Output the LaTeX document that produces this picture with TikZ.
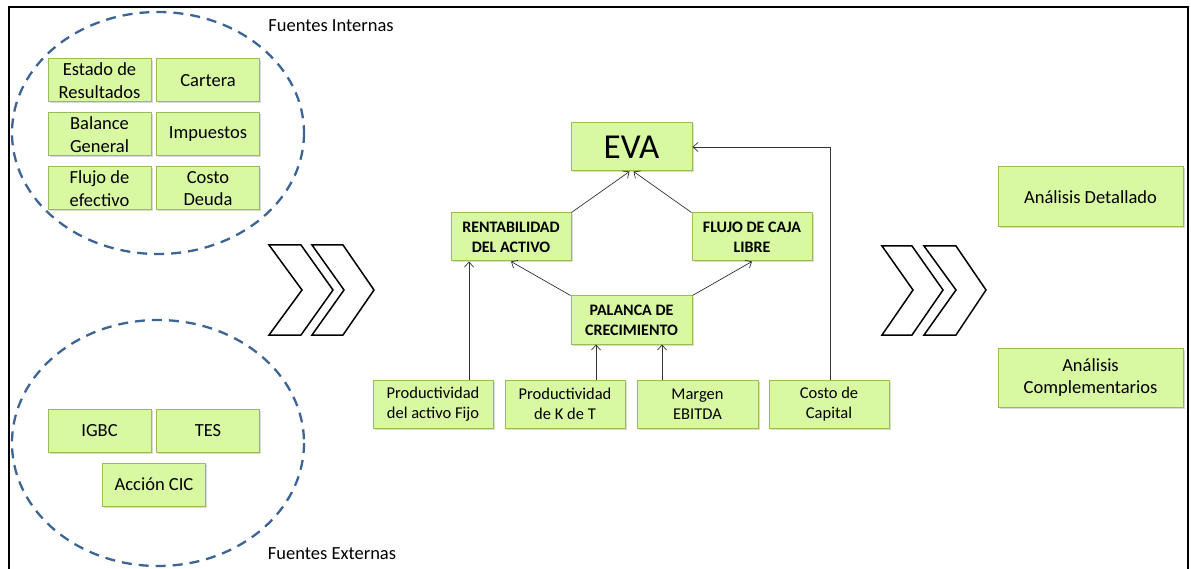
\documentclass[tikz,border=0pt]{standalone}
\usepackage{fontspec}
\setmainfont{Carlito}
\usetikzlibrary{arrows.meta,shadows}
\definecolor{boxfill}{HTML}{D8F8A2}
\definecolor{boxline}{HTML}{9BBB59}
\definecolor{dashblue}{HTML}{3C6494}
\begin{document}
\begin{tikzpicture}[x=1pt,y=-1pt,
  box/.style={draw=boxline, fill=boxfill, line width=1pt, align=center, inner sep=1pt,
    drop shadow={opacity=0.3,shadow xshift=1.5pt,shadow yshift=-1.5pt},
    font=\fontsize{18.5}{22.5}\selectfont},
  smallbox/.style={box, minimum width=103pt, minimum height=43pt},
  midbox/.style={box, minimum width=120pt, minimum height=48pt, font=\fontsize{16}{20}\selectfont\bfseries},
  lowbox/.style={box, minimum width=120pt, minimum height=48pt, font=\fontsize{16.5}{20.5}\selectfont},
  bigbox/.style={box, minimum width=185pt, minimum height=60pt},
  arr/.style={-{Straight Barb[length=5pt,width=9pt]}, line width=0.7pt, draw=black!80},
  chev/.style={draw=black, line width=1.5pt, fill=white, line join=miter},
  src/.style={draw=dashblue, line width=2.3pt, dash pattern=on 10pt off 7pt},
  lbl/.style={font=\fontsize{18.5}{22}\selectfont}
]
\useasboundingbox (0,0) rectangle (1191,569);
% frame
\draw[line width=2pt] (9,572) -- (9,7) -- (1188,7) -- (1188,572);

% source ellipses
\draw[src] (158,133) ellipse [x radius=146, y radius=121];
\draw[src] (158,443) ellipse [x radius=146, y radius=123];
\node[lbl] (fi) at (331,26) {Fuentes Internas};
\node[lbl] (fe) at (332,554) {Fuentes Externas};

% internal sources
\node[smallbox] (er) at (99.5,80.5) {Estado de\\Resultados};
\node[smallbox] (cart) at (208,80.5) {Cartera};
\node[smallbox] (bal) at (99.5,134.5) {Balance\\General};
\node[smallbox] (imp) at (208,134.5) {Impuestos};
\node[smallbox] (flu) at (99.5,188.5) {Flujo de\\efectivo};
\node[smallbox] (cd) at (208,188.5) {Costo\\Deuda};

% external sources
\node[smallbox] (igbc) at (99.5,430.5) {IGBC};
\node[smallbox] (tes) at (208,430.5) {TES};
\node[smallbox] (acc) at (154,484.5) {Acción CIC};

% chevrons
\draw[chev] (269,245) -- (301,245) -- (333,290) -- (301,335) -- (269,335) -- (302,290) -- cycle;
\draw[chev] (312,245) -- (343,245) -- (374,290) -- (343,335) -- (312,335) -- (344,290) -- cycle;
\draw[chev] (882,246) -- (912,246) -- (943,290) -- (912,335) -- (882,335) -- (913,290) -- cycle;
\draw[chev] (924,246) -- (956,246) -- (986,290) -- (956,335) -- (924,335) -- (956,290) -- cycle;

% central tree
\node[box, minimum width=121pt, minimum height=48pt, font=\fontsize{35}{40}\selectfont] (eva) at (631.5,147) {EVA};
\node[midbox] (rent) at (511,237) {RENTABILIDAD\\DEL ACTIVO};
\node[midbox] (fcl) at (752,237) {FLUJO DE CAJA\\LIBRE};
\node[midbox, minimum width=121pt] (pal) at (631.5,320) {PALANCA DE\\CRECIMIENTO};
\node[lowbox] (p1) at (433,404) {Productividad\\del activo Fijo};
\node[lowbox] (p2) at (565,404) {Productividad\\de K de T};
\node[lowbox, minimum width=121pt] (p3) at (697.5,404) {Margen\\EBITDA};
\node[lowbox] (p4) at (829,404) {Costo de\\Capital};

\coordinate (x1) at (469,0);
\coordinate (x2) at (596,0);
\coordinate (x3) at (662,0);
\coordinate (x4) at (830,0);

\draw[arr] (rent.north east) -- ([xshift=-2pt]eva.south);
\draw[arr] (fcl.north west) -- ([xshift=2pt]eva.south);
\draw[arr] (pal.north west) -- (rent.south);
\draw[arr] (pal.north east) -- (fcl.south);
\draw[arr] (p1.north -| x1) -- (rent.south -| x1);
\draw[arr] (p2.north -| x2) -- (pal.south -| x2);
\draw[arr] (p3.north -| x3) -- (pal.south -| x3);
\draw[arr] (p4.north -| x4) |- (eva.east);

% outputs
\node[bigbox] (ad) at (1090.5,197) {Análisis Detallado};
\node[bigbox, minimum height=59pt] (ac) at (1090.5,377.5) {Análisis\\Complementarios};
\end{tikzpicture}
\end{document}
